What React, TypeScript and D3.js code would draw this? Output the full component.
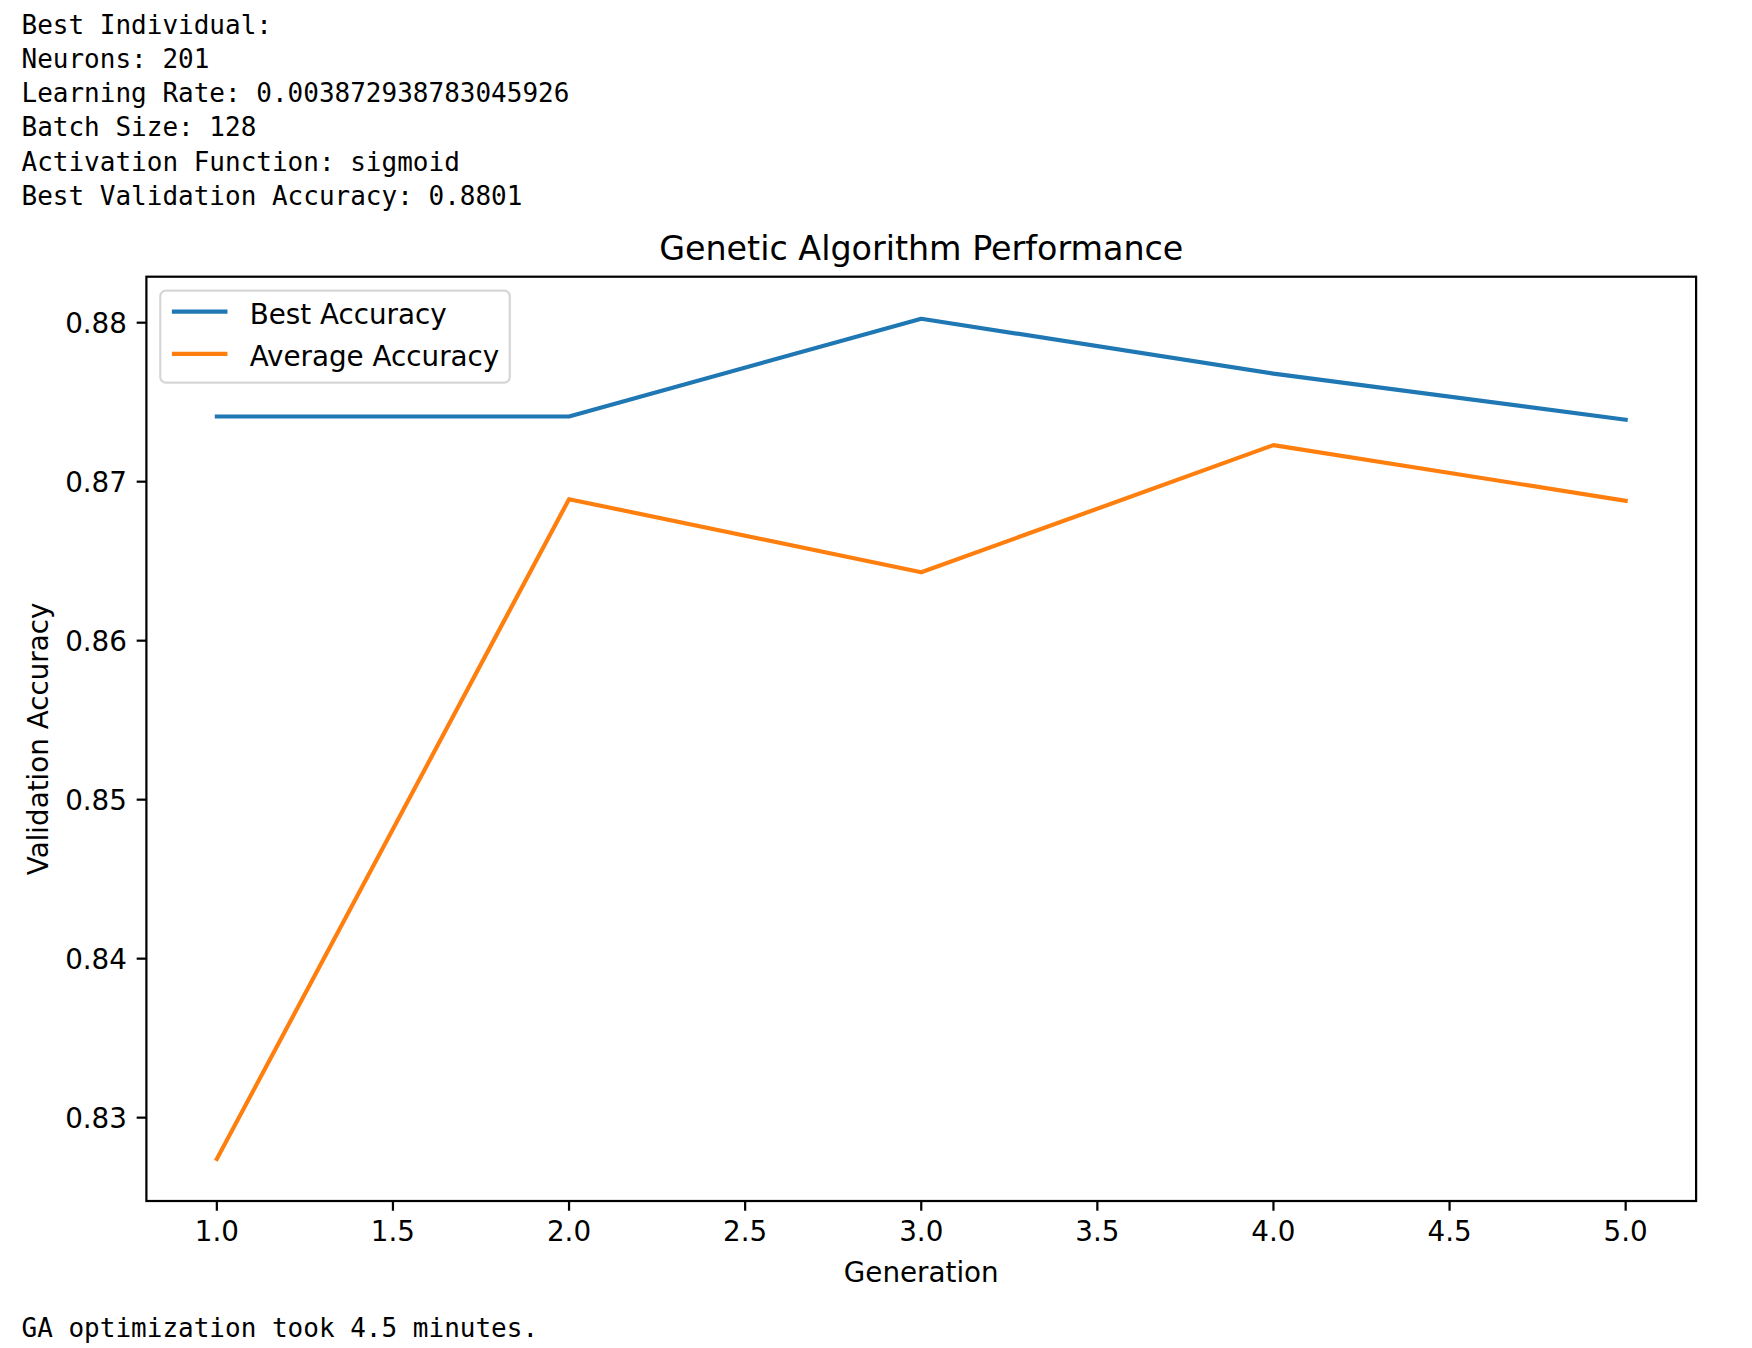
import React from "react";
import * as d3 from "d3";

const generations = [1, 2, 3, 4, 5];
const bestAccuracy = [0.8741, 0.8741, 0.88025, 0.8768, 0.8739];
const averageAccuracy = [0.8274, 0.8689, 0.8643, 0.8723, 0.8688];
const xTicks = [1.0, 1.5, 2.0, 2.5, 3.0, 3.5, 4.0, 4.5, 5.0];
const yTicks = [0.83, 0.84, 0.85, 0.86, 0.87, 0.88];
const headerLines = [
  "Best Individual:",
  "Neurons: 201",
  "Learning Rate: 0.003872938783045926",
  "Batch Size: 128",
  "Activation Function: sigmoid",
  "Best Validation Accuracy: 0.8801",
];
const footerLine = "GA optimization took 4.5 minutes.";
const seriesNames = ["Best Accuracy", "Average Accuracy"];
const seriesColors = ["#1f77b4", "#ff7f0e"];

const W = 1752;
const H = 1348;
const AX = { left: 146.4, right: 1696.1, top: 276.7, bottom: 1201 };
const FS = 27.78;
const TICK = 9.72;
const PAD = 9.72;
const SPINE = 2.22;
const LW = 4.17;
const MONO_FS = 26;

export default function App() {
  const xMin = d3.min(generations)!;
  const xMax = d3.max(generations)!;
  const xPad = (xMax - xMin) * 0.05;
  const x = d3.scaleLinear().domain([xMin - xPad, xMax + xPad]).range([AX.left, AX.right]);

  const all = [...bestAccuracy, ...averageAccuracy];
  const yMin = d3.min(all)!;
  const yMax = d3.max(all)!;
  const yPad = (yMax - yMin) * 0.05;
  const y = d3.scaleLinear().domain([yMin - yPad, yMax + yPad]).range([AX.bottom, AX.top]);

  const line = d3
    .line<[number, number]>()
    .x((d) => x(d[0]))
    .y((d) => y(d[1]));

  const series = [bestAccuracy, averageAccuracy].map((vals) =>
    generations.map((g, i) => [g, vals[i]] as [number, number])
  );

  const font = "'DejaVu Sans', sans-serif";
  const mono = "'DejaVu Sans Mono', monospace";

  const legLeft = AX.left + 0.5 * FS;
  const legTop = AX.top + 0.5 * FS;
  const legW = 349.5;
  const legH = 92;
  const handleX0 = legLeft + 0.4 * FS + 0.5;
  const handleX1 = handleX0 + 2.0 * FS;
  const textX = handleX1 + 0.8 * FS;
  const rowY = [legTop + 21, legTop + 63.3];

  return (
    <svg
      width={W}
      height={H}
      style={{ position: "absolute", left: 0, top: 0, background: "#fff" }}
    >
      <rect x={0} y={0} width={W} height={H} fill="#fff" />
      {headerLines.map((t, i) => (
        <text key={i} x={21.5} y={33.7 + i * 34.2} fontFamily={mono} fontSize={MONO_FS} fill="#000">
          {t}
        </text>
      ))}
      <text x={21.5} y={1336.6} fontFamily={mono} fontSize={MONO_FS} fill="#000">
        {footerLine}
      </text>

      <text
        x={(AX.left + AX.right) / 2}
        y={AX.top - 16.7}
        textAnchor="middle"
        fontFamily={font}
        fontSize={33.33}
        fill="#000"
      >
        Genetic Algorithm Performance
      </text>

      <defs>
        <clipPath id="axclip">
          <rect x={AX.left} y={AX.top} width={AX.right - AX.left} height={AX.bottom - AX.top} />
        </clipPath>
      </defs>

      <g clipPath="url(#axclip)">
        {series.map((s, i) => (
          <path
            key={i}
            d={line(s) || ""}
            fill="none"
            stroke={seriesColors[i]}
            strokeWidth={LW}
            strokeLinecap="square"
            strokeLinejoin="round"
          />
        ))}
      </g>

      <rect
        x={AX.left}
        y={AX.top}
        width={AX.right - AX.left}
        height={AX.bottom - AX.top}
        fill="none"
        stroke="#000"
        strokeWidth={SPINE}
      />

      {xTicks.map((t) => (
        <g key={"x" + t}>
          <line x1={x(t)} x2={x(t)} y1={AX.bottom} y2={AX.bottom + TICK} stroke="#000" strokeWidth={SPINE} />
          <text
            x={x(t)}
            y={AX.bottom + TICK + PAD + 20.8}
            textAnchor="middle"
            fontFamily={font}
            fontSize={FS}
            fill="#000"
          >
            {d3.format(".1f")(t)}
          </text>
        </g>
      ))}

      {yTicks.map((t) => (
        <g key={"y" + t}>
          <line x1={AX.left - TICK} x2={AX.left} y1={y(t)} y2={y(t)} stroke="#000" strokeWidth={SPINE} />
          <text
            x={AX.left - TICK - PAD}
            y={y(t) + 10.1}
            textAnchor="end"
            fontFamily={font}
            fontSize={FS}
            fill="#000"
          >
            {d3.format(".2f")(t)}
          </text>
        </g>
      ))}

      <text
        x={(AX.left + AX.right) / 2}
        y={1282}
        textAnchor="middle"
        fontFamily={font}
        fontSize={FS}
        fill="#000"
      >
        Generation
      </text>
      <text
        transform={`translate(47.8, ${(AX.top + AX.bottom) / 2}) rotate(-90)`}
        textAnchor="middle"
        fontFamily={font}
        fontSize={FS}
        fill="#000"
      >
        Validation Accuracy
      </text>

      <rect
        x={legLeft}
        y={legTop}
        width={legW}
        height={legH}
        rx={5.6}
        ry={5.6}
        fill="#fff"
        fillOpacity={0.8}
        stroke="#cccccc"
        strokeOpacity={0.8}
        strokeWidth={2.2}
      />
      {seriesNames.map((n, i) => (
        <g key={n}>
          <line x1={handleX0} x2={handleX1} y1={rowY[i]} y2={rowY[i]} stroke={seriesColors[i]} strokeWidth={LW} />
          <text x={textX} y={rowY[i] + 12.3} fontFamily={font} fontSize={FS} fill="#000">
            {n}
          </text>
        </g>
      ))}
    </svg>
  );
}
